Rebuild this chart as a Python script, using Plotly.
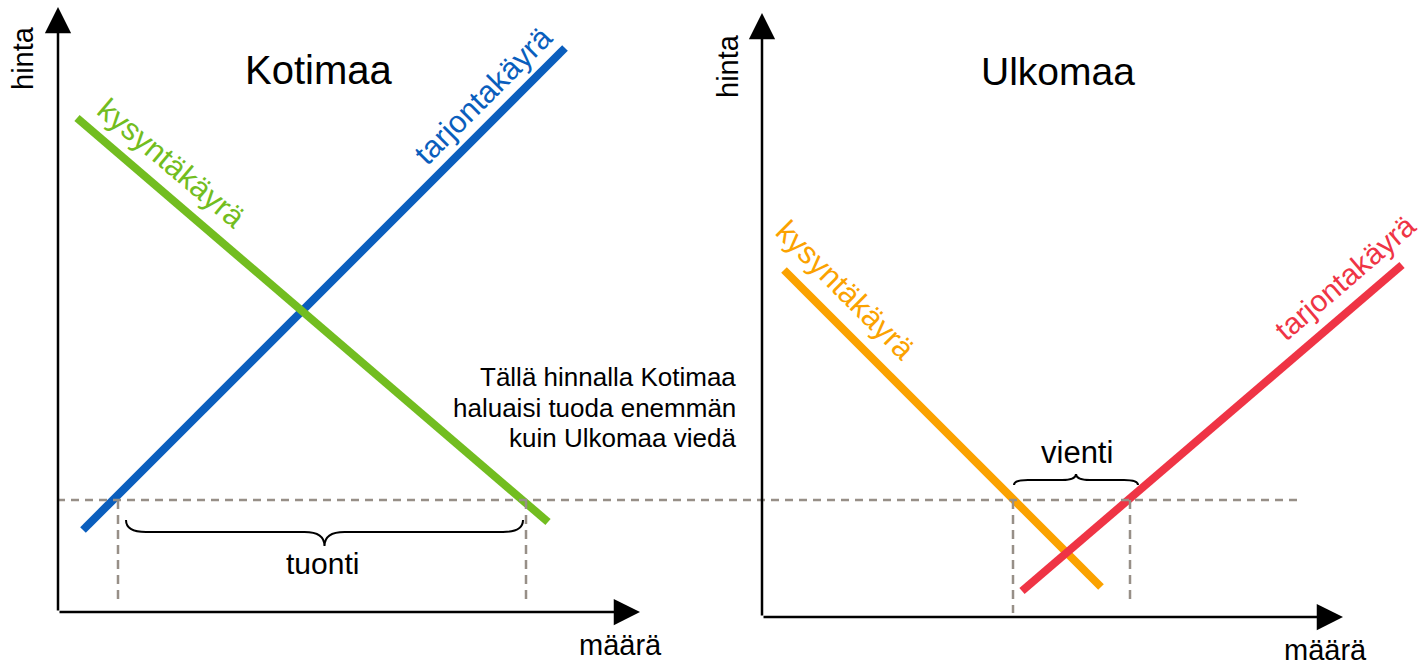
import plotly.graph_objects as go

# ---------------- data (units) ----------------
# Kotimaa (home market): quantity / price
home_supply_q = [2.5, 50.7]
home_supply_p = [8.2, 56.4]
home_demand_q = [1.9, 49.0]
home_demand_p = [49.4, 9.0]
home_price = 11.2                 # world price level (dashed line)
import_q = [6.0, 46.8]            # quantities at the world price
import_q_base = [0.9, 1.0]

# Ulkomaa (foreign market)
foreign_demand_q = [2.2, 33.9]
foreign_demand_p = [34.7, 3.0]
foreign_supply_q = [26.0, 64.0]
foreign_supply_p = [2.6, 35.2]
foreign_price = 11.7
export_q = [25.1, 36.8]
export_q_base = [0.4, 1.2]

# axis extents (arrow tips)
home_axis_q_max, home_axis_p_max = 58.2, 60.5
foreign_axis_q_max, foreign_axis_p_max = 58.1, 60.4

# labels
title_home = "Kotimaa"
title_foreign = "Ulkomaa"
label_price = "hinta"
label_quantity = "määrä"
label_demand = "kysyntäkäyrä"
label_supply = "tarjontakäyrä"
label_import = "tuonti"
label_export = "vienti"
note_lines = ["Tällä hinnalla Kotimaa", "haluaisi tuoda enemmän", "kuin Ulkomaa viedä"]

# ---------------- styling ----------------
W, H = 1423, 665
FONT = "Liberation Sans, Arial, Helvetica, sans-serif"
BLUE = "#0A5EBD"
GREEN = "#72BD20"
ORANGE = "#FBA200"
RED = "#EF3445"
GREY = "#978F87"

X1_DOM = [0, 700 / W]
X1_RNG = [-5.8, 64.2]
X2_DOM = [700 / W, 1]
X2_RNG = [-6.2, 66.1]
Y1_RNG = [-5.3, 61.2]
Y2_RNG = [-4.8, 61.7]


def to_paper(x, dom, rng):
    return dom[0] + (x - rng[0]) / (rng[1] - rng[0]) * (dom[1] - dom[0])


fig = go.Figure()

# curves
fig.add_trace(go.Scatter(x=home_supply_q, y=home_supply_p, mode="lines",
                         line=dict(color=BLUE, width=8), xaxis="x", yaxis="y"))
fig.add_trace(go.Scatter(x=home_demand_q, y=home_demand_p, mode="lines",
                         line=dict(color=GREEN, width=8), xaxis="x", yaxis="y"))
fig.add_trace(go.Scatter(x=foreign_demand_q, y=foreign_demand_p, mode="lines",
                         line=dict(color=ORANGE, width=8), xaxis="x2", yaxis="y2"))
fig.add_trace(go.Scatter(x=foreign_supply_q, y=foreign_supply_p, mode="lines",
                         line=dict(color=RED, width=8), xaxis="x2", yaxis="y2"))

# vertical dashed guides
for q, b in zip(import_q, import_q_base):
    fig.add_trace(go.Scatter(x=[q, q], y=[home_price, b], mode="lines",
                             line=dict(color=GREY, width=2.5, dash="9px,6px"),
                             xaxis="x", yaxis="y"))
for q, b in zip(export_q, export_q_base):
    fig.add_trace(go.Scatter(x=[q, q], y=[foreign_price, b], mode="lines",
                             line=dict(color=GREY, width=2.5, dash="9px,6px"),
                             xaxis="x2", yaxis="y2"))

shapes = []
# long horizontal dashed price line across both panels
shapes.append(dict(type="line", xref="paper", yref="y",
                   x0=to_paper(-0.1, X1_DOM, X1_RNG),
                   x1=to_paper(53.6, X2_DOM, X2_RNG),
                   y0=home_price, y1=home_price,
                   line=dict(color=GREY, width=2.5, dash="8px,6px")))


def brace(x0, x1, y_end, y_flat, y_tip, r):
    xm = (x0 + x1) / 2
    return (f"M{x0},{y_end} Q{x0},{y_flat} {x0 + r},{y_flat} "
            f"L{xm - r},{y_flat} Q{xm},{y_flat} {xm},{y_tip} "
            f"Q{xm},{y_flat} {xm + r},{y_flat} "
            f"L{x1 - r},{y_flat} Q{x1},{y_flat} {x1},{y_end}")


shapes.append(dict(type="path", xref="x", yref="y",
                   path=brace(import_q[0] + 0.8, import_q[1] - 0.3,
                              home_price - 2.0, home_price - 3.2, home_price - 4.6, 2.0),
                   line=dict(color="black", width=2)))
shapes.append(dict(type="path", xref="x2", yref="y2",
                   path=brace(export_q[0] + 0.1, export_q[1] + 0.8,
                              foreign_price + 1.5, foreign_price + 2.0, foreign_price + 2.6, 1.4),
                   line=dict(color="black", width=2)))

ann = []


def axis_arrow(xr, yr, x, y):
    ann.append(dict(xref=xr, yref=yr, axref=xr, ayref=yr, x=x, y=y, ax=0, ay=0,
                    text="", showarrow=True, arrowhead=2, arrowsize=2.1,
                    arrowwidth=2.5, arrowcolor="black", standoff=0, startstandoff=0))


axis_arrow("x", "y", 0, home_axis_p_max)
axis_arrow("x", "y", home_axis_q_max, 0)
axis_arrow("x2", "y2", 0, foreign_axis_p_max)
axis_arrow("x2", "y2", foreign_axis_q_max, 0)


def txt(xr, yr, x, y, s, size, color="black", angle=0, **kw):
    d = dict(xref=xr, yref=yr, x=x, y=y, text=s, showarrow=False, textangle=angle,
             font=dict(family=FONT, size=size, color=color))
    d.update(kw)
    ann.append(d)


txt("x", "y", 26.0, 54.2, title_home, 40)
txt("x2", "y2", 29.6, 54.6, title_foreign, 39)
txt("x", "y", -3.5, 55.4, label_price, 29, angle=-90)
txt("x2", "y2", -3.4, 55.1, label_price, 29, angle=-90)
txt("x", "y", 56.2, -3.3, label_quantity, 29)
txt("x2", "y2", 56.3, -3.3, label_quantity, 29)
txt("x", "y", 11.4, 44.9, label_demand, 31, GREEN, 40)
txt("x", "y", 42.5, 51.7, label_supply, 31, BLUE, -45)
txt("x2", "y2", 8.4, 32.7, label_demand, 31, ORANGE, 45)
txt("x2", "y2", 58.3, 34.0, label_supply, 30, RED, -40.6)
txt("x", "y", 26.4, 4.9, label_import, 30)
txt("x2", "y2", 31.5, 16.5, label_export, 31)
for i, line in enumerate(note_lines):
    txt("x2", "y2", -2.4, 24.0 - 3.05 * i, line, 26, xanchor="right")

fig.update_layout(
    width=W, height=H,
    margin=dict(l=0, r=0, t=0, b=0),
    paper_bgcolor="white", plot_bgcolor="rgba(0,0,0,0)",
    showlegend=False,
    xaxis=dict(domain=X1_DOM, range=X1_RNG, visible=False),
    yaxis=dict(domain=[0, 1], range=Y1_RNG, visible=False),
    xaxis2=dict(domain=X2_DOM, range=X2_RNG, visible=False),
    yaxis2=dict(domain=[0, 1], range=Y2_RNG, visible=False, anchor="x2"),
    shapes=shapes,
    annotations=ann,
)

fig.write_html("out.html",
               config={"displayModeBar": False},
               post_script="document.body.style.margin='0';document.body.style.overflow='hidden';")
